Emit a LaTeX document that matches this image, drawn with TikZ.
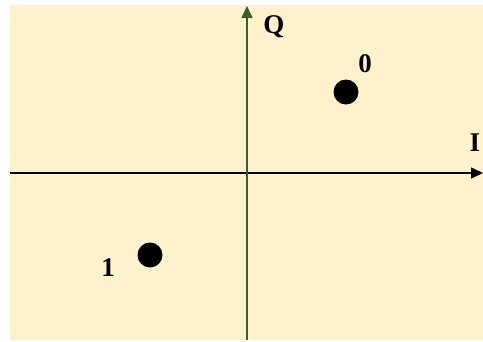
\documentclass[tikz,border=0pt]{standalone}
\usepackage{fontspec}
\setmainfont{Liberation Serif}
\usetikzlibrary{arrows.meta}
\definecolor{bgyellow}{RGB}{255,242,204}
\definecolor{axisgreen}{RGB}{56,94,38}
\tikzset{
  dot/.style={circle,fill=black,inner sep=0pt,minimum size=25pt},
  lbl/.style={inner sep=0pt,font=\fontsize{27}{31}\selectfont\bfseries},
  axis/.style={line width=1.6pt,-{Triangle[length=12pt,width=11pt]}}
}
\begin{document}
\begin{tikzpicture}[x=1pt,y=-1pt]
\useasboundingbox (0,0) rectangle (483,341);
\fill[bgyellow] (10,5) rectangle (483,340);
\coordinate (iL) at (10,173);
\coordinate (iR) at (483,173);
\coordinate (qB) at (247,340);
\coordinate (qT) at (247,6);
\draw[axis,black] (iL) -- (iR);
\draw[axis,axisgreen] (qB) -- (qT);
\node[lbl] (Q) at (274,27) {Q};
\node[lbl] (I) at (475,143) {I};
\node[dot] (d0) at (346,92) {};
\node[lbl] (l0) at (365,64) {0};
\node[dot] (d1) at (150,255) {};
\node[lbl] (l1) at (108,268) {1};
\end{tikzpicture}
\end{document}
